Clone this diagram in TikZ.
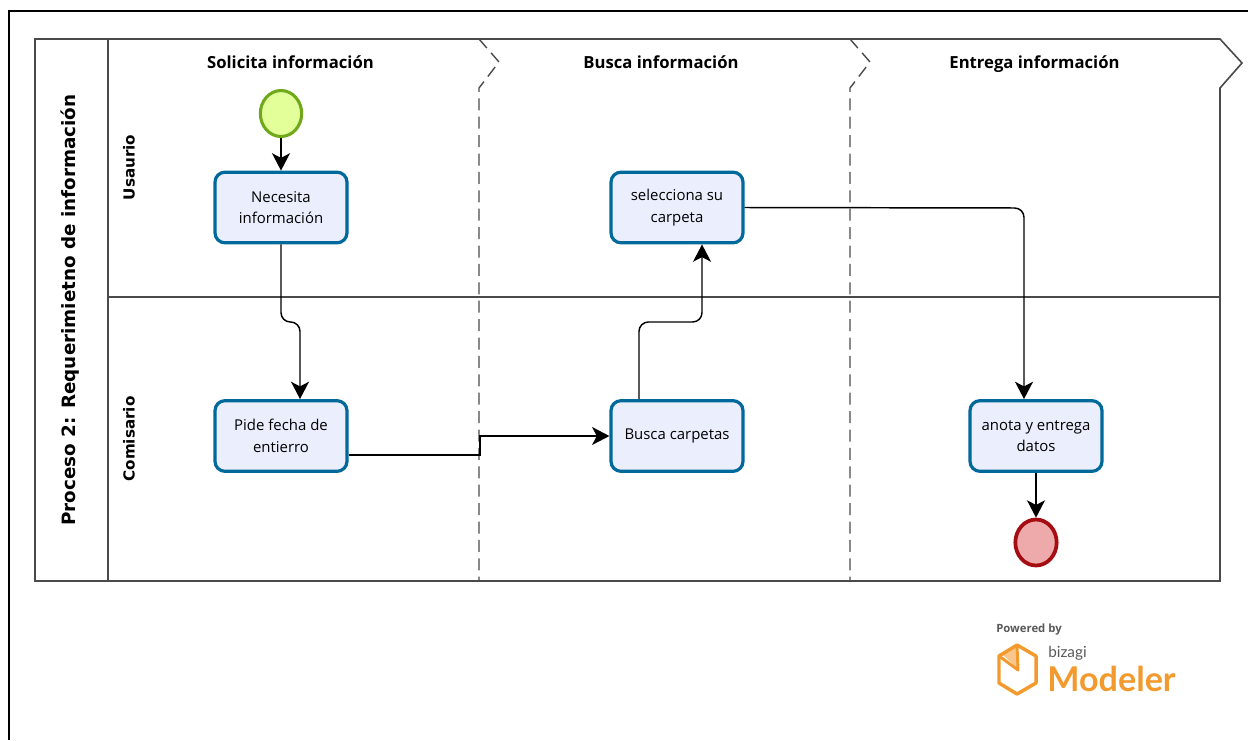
\documentclass[tikz,border=0pt]{standalone}
\usepackage{fontspec}
\setmainfont{Open Sans}
\newfontfamily\logofont{Lato}
\newfontfamily\wideface{DejaVu Sans}
\usetikzlibrary{arrows.meta,calc,shapes.geometric}
\definecolor{poolline}{HTML}{4A4A4A}
\definecolor{taskfill}{HTML}{EAEEFD}
\definecolor{taskline}{HTML}{00699B}
\definecolor{startfill}{HTML}{E3FF99}
\definecolor{startline}{HTML}{6FA81B}
\definecolor{endfill}{HTML}{EEAAAA}
\definecolor{endline}{HTML}{A50D12}
\definecolor{logo}{HTML}{F29A2E}
\definecolor{logolight}{HTML}{F9C68C}
\tikzset{
  taskbox/.style={draw=taskline,fill=taskfill,line width=2.4pt,rounded corners=7.5pt,
    minimum width=99pt,minimum height=53pt,inner sep=0pt,align=center,
    font=\fontsize{11.2pt}{16.2pt}\selectfont},
  startev/.style={ellipse,draw=startline,fill=startfill,line width=2.3pt,minimum width=31pt,minimum height=34.5pt,inner sep=0pt},
  endev/.style={ellipse,draw=endline,fill=endfill,line width=2.8pt,minimum width=31pt,minimum height=34.5pt,inner sep=0pt},
  flow/.style={draw=black,line width=1.1pt,rounded corners=7pt,-{Stealth[length=13pt,width=13.5pt,inset=3.5pt]}},
  poolstroke/.style={draw=poolline,line width=1.2pt},
  phasesep/.style={draw=poolline,line width=1.05pt,dash pattern=on 9pt off 4.8pt},
  phasehead/.style={font=\fontsize{12.5pt}{14pt}\selectfont\bfseries,inner sep=0pt,text height=9pt,text depth=3pt},
  lanehead/.style={font=\wideface\fontsize{11.4pt}{12pt}\selectfont\bfseries,rotate=90,inner sep=0pt,text height=8.5pt,text depth=0pt},
  poolhead/.style={font=\wideface\fontsize{13.75pt}{16pt}\selectfont\bfseries,rotate=90,inner sep=0pt,text height=10.5pt,text depth=3pt},
}
\begin{document}
\begin{tikzpicture}[x=0.75pt,y=-0.75pt]
\useasboundingbox (0,0) rectangle (1248,740);
\fill[white] (0,0) rectangle (1248,740);
% outer frame
\draw[black,line width=1.6pt] (9,740) -- (9,11) -- (1248,11);
% pool
\draw[poolstroke] (35,39) rectangle (108,581);
\draw[poolstroke] (108,39) -- (1220,39) -- (1242,63) -- (1220,88) -- (1220,581) -- (108,581);
\draw[poolstroke] (108,297) -- (1220,297);
% phase separators
\draw[phasesep] (479,39) -- (499,62) -- (479,88) -- (479,581);
\draw[phasesep] (850,39) -- (870,62) -- (850,88) -- (850,581);
% headers
\node[poolhead] (pool) at (70.5,310) {Proceso 2: Requerimietno de información};
\node[lanehead] (lane1) at (129,167.5) {Usaurio};
\node[lanehead] (lane2) at (129,439) {Comisario};
\node[phasehead] (ph1) at (290.5,64) {Solicita información};
\node[phasehead] (ph2) at (661,64) {Busca información};
\node[phasehead] (ph3) at (1034.5,64) {Entrega información};
% nodes
\node[startev] (start) at (281,113.5) {};
\node[taskbox] (t1) at (281,207.5) {Necesita\\información};
\node[taskbox] (t2) at (677,207.5) {selecciona su\\carpeta};
\node[taskbox] (t3) at (281,436) {Pide fecha de\\entierro};
\node[taskbox] (t4) at (677,436) {Busca carpetas};
\node[taskbox] (t5) at (1036,436) {anota y entrega\\datos};
\node[endev] (end) at (1036,542.5) {};
% connectors
\draw[flow] (start) -- (t1);
\draw[flow] (t1.south) -- (281,322) -- (300,322) -- ($(t3.north)+(19,0)$);
\draw[flow,rounded corners=0pt] ($(t3.east)+(0,19)$) -- (480,455) -- (480,436) -- (t4.west);
\draw[flow] ($(t4.north)+(-38,0)$) -- (639,322) -- (702,322) -- ($(t2.south)+(25,0)$);
\draw[flow] (t2.east) -- (1024,208) -- ($(t5.north)+(-12,0)$);
\draw[flow] (t5) -- (end);
% logo
\node[anchor=west,inner sep=0pt,text=black!65,font=\fontsize{8.5pt}{10pt}\selectfont\bfseries,text height=6.5pt,text depth=2pt] (pw) at (996,629) {Powered by};
\fill[logolight] (1017,645) -- (1002,654) -- (1018,669) -- cycle;
\draw[logo,line join=round,line width=2.6pt] (1017,645) -- (1036,656) -- (1036,683) -- (1017,694) -- (999,683) -- (999,656) -- cycle;
\draw[logo,line join=round,line width=2.2pt] (1017,645) -- (1018,670) -- (999,656);
\node[anchor=west,inner sep=0pt,text=black!65,font=\logofont\fontsize{11.5pt}{12pt}\selectfont,text height=8pt,text depth=3pt] (bz) at (1048,654) {bizagi};
\node[anchor=west,inner sep=0pt,text=logo,font=\logofont\bfseries\fontsize{25.6pt}{28pt}\selectfont] (md) at (1047,679) {Modeler};
\end{tikzpicture}
\end{document}
